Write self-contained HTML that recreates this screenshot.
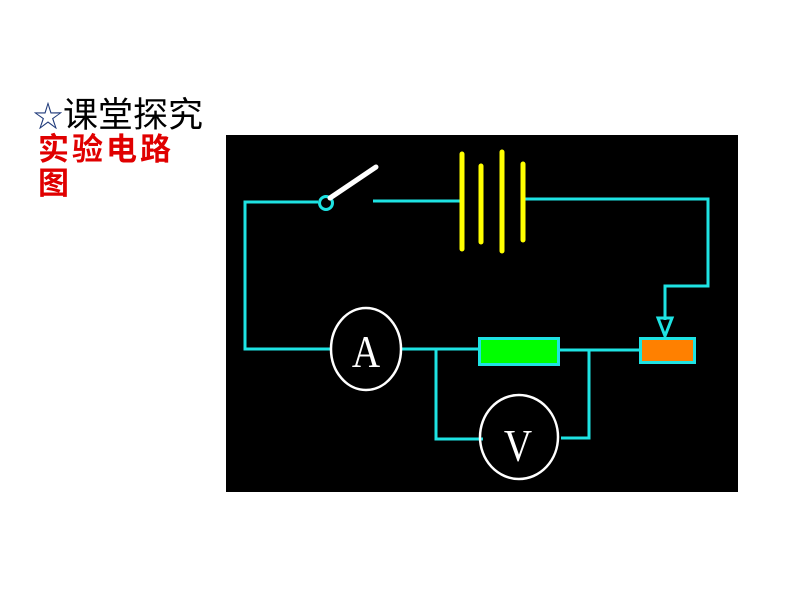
<!DOCTYPE html>
<html><head><meta charset="utf-8"><style>
html,body{margin:0;padding:0;background:#fff;width:800px;height:600px;overflow:hidden;position:relative}
.t{position:absolute;font-family:"Liberation Sans","Noto Sans CJK SC",sans-serif;white-space:nowrap}
</style></head><body>
<div class="t" style="left:33px;top:95px;font-size:35px;line-height:42px;color:#000"><span style="color:#1f3a7a;font-size:30px">☆</span>课堂探究</div>
<div class="t" style="left:38px;top:132px;font-size:31px;line-height:36px;color:#e00000;font-weight:bold;letter-spacing:3px">实验电路</div>
<div class="t" style="left:38px;top:166px;font-size:31px;line-height:36px;color:#e00000;font-weight:bold">图</div>
<svg style="position:absolute;left:0;top:0" width="800" height="600">
<rect x="226" y="135" width="512" height="357" fill="#000"/>
<g stroke="#1ee3e3" stroke-width="3" fill="none">
<polyline points="318,202 245,202 245,349 330,349"/>
<line x1="373" y1="201" x2="460" y2="201"/>
<polyline points="525,199 708,199 708,286 665,286 665,320"/>
<polygon points="658,318 672,318 665,336"/>
<line x1="402" y1="349" x2="478" y2="349"/>
<line x1="560" y1="350" x2="640" y2="350"/>
<polyline points="436,349 436,439 483,439"/>
<polyline points="589,350 589,438 561,438"/>
<circle cx="326" cy="203" r="6.5"/>
</g>
<line x1="330" y1="198" x2="376" y2="167" stroke="#fff" stroke-width="5" stroke-linecap="round"/>
<g stroke="#ffff00" stroke-width="5" stroke-linecap="round">
<line x1="462" y1="154" x2="462" y2="249"/>
<line x1="481" y1="166" x2="481" y2="242"/>
<line x1="502" y1="152" x2="502" y2="251"/>
<line x1="523" y1="164" x2="523" y2="240"/>
</g>
<rect x="479.5" y="338.5" width="79" height="26" fill="#00ff00" stroke="#1ee3e3" stroke-width="3"/>
<rect x="640.5" y="338.5" width="54" height="24" fill="#ff8000" stroke="#1ee3e3" stroke-width="3"/>
<g stroke="#fff" stroke-width="2.5" fill="none">
<ellipse cx="366" cy="349" rx="35" ry="41"/>
<ellipse cx="519" cy="437" rx="39" ry="42"/>
</g>
<text x="366" y="367" font-family="Liberation Serif,serif" font-size="46" fill="#fff" text-anchor="middle" transform="translate(366 0) scale(0.85 1) translate(-366 0)">A</text>
<text x="518" y="461" font-family="Liberation Serif,serif" font-size="46" fill="#fff" text-anchor="middle" transform="translate(518 0) scale(0.85 1) translate(-518 0)">V</text>
</svg>
</body></html>
